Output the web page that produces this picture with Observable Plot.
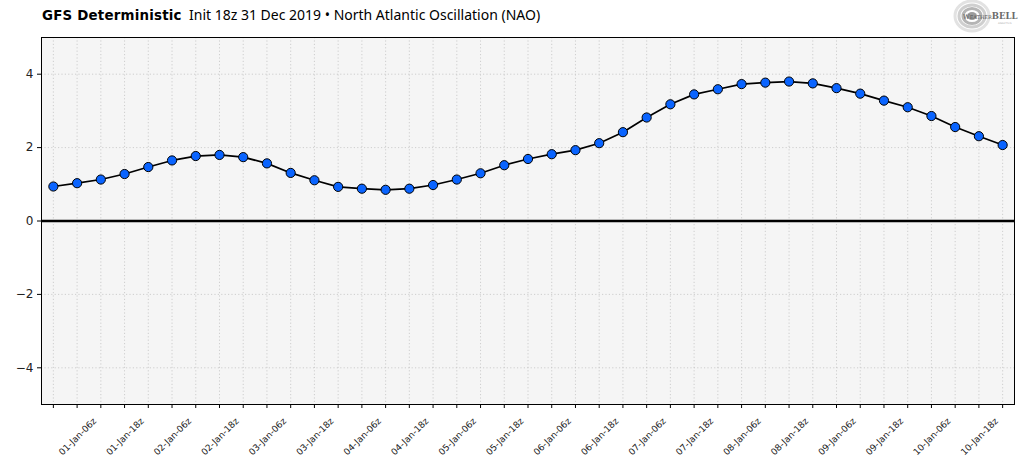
<!DOCTYPE html>
<html><head><meta charset="utf-8">
<script src="https://cdn.jsdelivr.net/npm/d3@7"></script>
<script src="https://cdn.jsdelivr.net/npm/@observablehq/plot@0.6"></script>
<style>
body{margin:0;background:#fff;}
#wrap{position:relative;width:1024px;height:459px;overflow:hidden;}
#title{position:absolute;left:42px;top:5px;font-family:"Noto Sans";font-size:14px;color:#000;white-space:nowrap;}
#title b{font-family:"DejaVu Sans";font-weight:700;font-size:13.4px;letter-spacing:0.2px;}
#logo{position:absolute;left:948px;top:0px;}
#chart{position:absolute;left:0;top:0;}
</style></head><body>
<div id="wrap">
<div id="chart"></div>
<div id="title"><b>GFS Deterministic</b>&nbsp; Init 18z 31 Dec 2019 • North Atlantic Oscillation (NAO)</div>
<svg id="logo" width="72" height="36" viewBox="0 0 72 36">
  <ellipse cx="24" cy="16" rx="17" ry="15" fill="none" stroke="#e2e2e2" stroke-width="3"/>
  <ellipse cx="24" cy="16" rx="13" ry="11" fill="none" stroke="#cfcfcf" stroke-width="3"/>
  <ellipse cx="24" cy="16" rx="9" ry="7.5" fill="none" stroke="#b5b5b5" stroke-width="3"/>
  <ellipse cx="24" cy="16" rx="5" ry="4" fill="#9c9c9c"/>
  <text x="15" y="19" font-family="DejaVu Serif" font-size="6.5" fill="#555">W<tspan font-size="5">EATHER</tspan><tspan font-size="8.5" fill="#6a6a6a" font-weight="bold">BELL</tspan></text>
  <text x="50" y="24" font-family="DejaVu Sans" font-size="2.5" fill="#aaa">ANALYTICS</text>
</svg>
</div>
<script>
const initTime = "2019-12-31T18:00:00Z";
const stepHours = 6;
const naoValues = [
  0.94, 1.03, 1.13, 1.28, 1.47, 1.65, 1.77, 1.80, 1.74, 1.57,
  1.31, 1.11, 0.93, 0.88, 0.85, 0.88, 0.98, 1.13, 1.30, 1.52,
  1.69, 1.82, 1.93, 2.12, 2.42, 2.82, 3.18, 3.45, 3.59, 3.73,
  3.77, 3.80, 3.75, 3.62, 3.47, 3.28, 3.10, 2.86, 2.56, 2.31,
  2.07
];
const yTicks = [-4, -2, 0, 2, 4];
const yGrid = [-4, -2, 2, 4];
const yDomain = [-5, 5];

const t0 = new Date(initTime);
const data = naoValues.map((v, i) => ({t: d3.utcHour.offset(t0, i * stepHours), v}));
const times = data.map(d => d.t);
const labelTimes = times.filter((d, i) => i > 0 && i % 2 === 0);
const xDomain = [d3.utcHour.offset(times[0], -3), d3.utcHour.offset(times[times.length - 1], 3)];
const fmt = d3.utcFormat("%d-%b-%Hz");

const chart = Plot.plot({
  width: 1024,
  height: 459,
  marginLeft: 41,
  marginRight: 10,
  marginTop: 37,
  marginBottom: 55,
  style: {background: "transparent", fontFamily: "DejaVu Sans", color: "#222"},
  x: {type: "utc", domain: xDomain},
  y: {domain: yDomain},
  marks: [
    Plot.frame({fill: "#f5f5f5", stroke: null}),
    Plot.gridX(times, {stroke: "#c4c4c4", strokeOpacity: 1, strokeDasharray: "1.2,2.2", strokeWidth: 0.8}),
    Plot.gridY(yGrid, {stroke: "#c4c4c4", strokeOpacity: 1, strokeDasharray: "1.2,2.2", strokeWidth: 0.8}),
    Plot.ruleY([0], {stroke: "#000", strokeWidth: 2.6}),
    Plot.line(data, {x: "t", y: "v", stroke: "#000", strokeWidth: 1.7}),
    Plot.dot(data, {x: "t", y: "v", r: 4.6, fill: "#0a64ff", stroke: "#000", strokeWidth: 1}),
    Plot.axisX(times, {tickFormat: () => "", tickSize: 4, label: null, stroke: "#000"}),
    Plot.axisX(labelTimes, {tickFormat: fmt, tickRotate: -45, tickSize: 0, tickPadding: 7, dx: -6, dy: 8, fontSize: 9, label: null}),
    Plot.axisY(yTicks, {tickSize: 4, tickPadding: 4, fontSize: 12, label: null, tickFormat: d => (d < 0 ? "\u2212" + (-d) : String(d)), stroke: "#000"}),
    Plot.frame({stroke: "#000", strokeWidth: 1})
  ]
});
document.getElementById("chart").appendChild(chart);
</script>
</body></html>
